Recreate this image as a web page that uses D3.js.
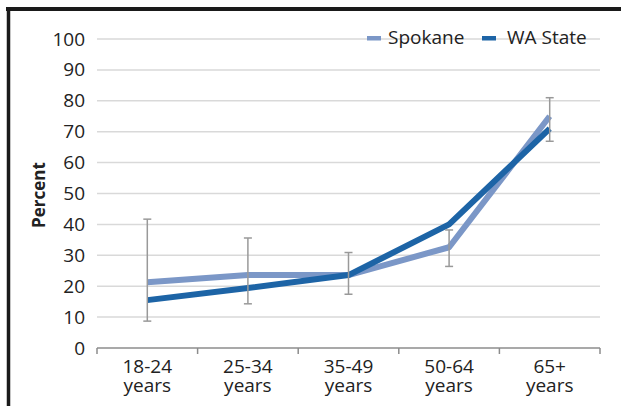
<!DOCTYPE html>
<html>
<head>
<meta charset="utf-8">
<script src="https://cdn.jsdelivr.net/npm/d3@7"></script>
<style>
  body { margin: 0; background: #fff; }
  svg { display: block; font-family: "Open Sans", sans-serif; }
</style>
</head>
<body>
<svg id="chart" width="621" height="406"></svg>
<script>
// age groups, two text lines each
var categories = ["18-24 years", "25-34 years", "35-49 years", "50-64 years", "65+ years"];
var spokane = [21.3, 23.6, 23.6, 32.6, 75.0];
var waState = [15.5, 19.4, 23.6, 40.0, 71.0];
// error bar ends (Spokane)
var errLow  = [8.7, 14.3, 17.4, 26.4, 66.9];
var errHigh = [41.7, 35.6, 30.9, 38.2, 81.0];
var yTicks = [0, 10, 20, 30, 40, 50, 60, 70, 80, 90, 100];

var svg = d3.select("#chart");

var x = d3.scaleBand()
    .domain(categories)
    .range([97, 600])
    .padding(0);

var y = d3.scaleLinear()
    .domain([0, 100])
    .range([348, 39]);

var cx = function(d, i) { return x(categories[i]) + x.bandwidth() / 2; };

// frame (top and left edges are the only visible ones)
svg.append("line")
    .attr("x1", 6).attr("x2", 621)
    .attr("y1", 9).attr("y2", 9)
    .attr("stroke", "#1a1a1a")
    .attr("stroke-width", 4);
svg.append("line")
    .attr("x1", 8.5).attr("x2", 8.5)
    .attr("y1", 7).attr("y2", 406)
    .attr("stroke", "#1a1a1a")
    .attr("stroke-width", 3.5);

// gridlines
svg.append("g")
    .selectAll("line")
    .data(yTicks.filter(function(d) { return d > 0; }))
    .enter().append("line")
    .attr("x1", 97)
    .attr("x2", 600)
    .attr("y1", function(d) { return y(d); })
    .attr("y2", function(d) { return y(d); })
    .attr("stroke", "#d9d9d9")
    .attr("stroke-width", 1.5);

// y axis labels
var yAxis = d3.axisLeft(y)
    .tickValues(yTicks)
    .tickSize(0)
    .tickPadding(0)
    .tickFormat(d3.format("d"));

var gy = svg.append("g")
    .attr("transform", "translate(85,0)")
    .call(yAxis);
gy.select(".domain").remove();
gy.selectAll("text")
    .attr("font-family", "Open Sans, sans-serif")
    .attr("font-size", 19)
    .attr("fill", "#222");

// x axis
svg.append("line")
    .attr("x1", 97).attr("x2", 600)
    .attr("y1", y(0)).attr("y2", y(0))
    .attr("stroke", "#8c8c8c")
    .attr("stroke-width", 1.5);

var bounds = categories.map(function(c) { return x(c); }).concat([x.range()[1]]);
svg.append("g")
    .selectAll("line")
    .data(bounds)
    .enter().append("line")
    .attr("x1", function(d) { return d; })
    .attr("x2", function(d) { return d; })
    .attr("y1", y(0))
    .attr("y2", y(0) + 6)
    .attr("stroke", "#8c8c8c")
    .attr("stroke-width", 1.5);

// category labels, two lines
var xl = svg.append("g")
    .selectAll("g")
    .data(categories)
    .enter().append("g");
[0, 1].forEach(function(k) {
    xl.append("text")
        .attr("x", function(d) { return x(d) + x.bandwidth() / 2; })
        .attr("y", 373 + k * 19)
        .attr("text-anchor", "middle")
        .attr("font-size", 19)
        .attr("fill", "#222")
        .text(function(d) { return d.split(" ")[k]; });
});

// y title
svg.append("text")
    .attr("transform", "translate(45,195) rotate(-90)")
    .attr("text-anchor", "middle")
    .attr("font-size", 17)
    .attr("font-weight", "bold")
    .attr("fill", "#222")
    .text("Percent");

// lines
var line = d3.line()
    .x(cx)
    .y(function(d) { return y(d); });

svg.append("path")
    .datum(spokane)
    .attr("d", line)
    .attr("fill", "none")
    .attr("stroke", "#7b97c7")
    .attr("stroke-width", 6)
    .attr("stroke-linejoin", "round");

svg.append("path")
    .datum(waState)
    .attr("d", line)
    .attr("fill", "none")
    .attr("stroke", "#1d64a6")
    .attr("stroke-width", 6)
    .attr("stroke-linejoin", "round");

// error bars
var eb = svg.append("g")
    .attr("stroke", "#999")
    .attr("stroke-width", 1.5);
errLow.forEach(function(lo, i) {
    var px = cx(null, i);
    var hi = errHigh[i];
    eb.append("line").attr("x1", px).attr("x2", px).attr("y1", y(lo)).attr("y2", y(hi));
    eb.append("line").attr("x1", px - 4).attr("x2", px + 4).attr("y1", y(lo)).attr("y2", y(lo));
    eb.append("line").attr("x1", px - 4).attr("x2", px + 4).attr("y1", y(hi)).attr("y2", y(hi));
});

// legend
var legendItems = [
    { name: "Spokane", color: "#7b97c7", x: 367 },
    { name: "WA State", color: "#1d64a6", x: 482 }
];
var lg = svg.append("g")
    .selectAll("g")
    .data(legendItems)
    .enter().append("g");
lg.append("rect")
    .attr("x", function(d) { return d.x; })
    .attr("y", 36)
    .attr("width", 14)
    .attr("height", 4.5)
    .attr("fill", function(d) { return d.color; });
lg.append("text")
    .attr("x", function(d) { return d.x + 21 + (d.name == "WA State" ? 4 : 0); })
    .attr("y", 44)
    .attr("font-size", 19)
    .attr("fill", "#222")
    .text(function(d) { return d.name; });
</script>
</body>
</html>
